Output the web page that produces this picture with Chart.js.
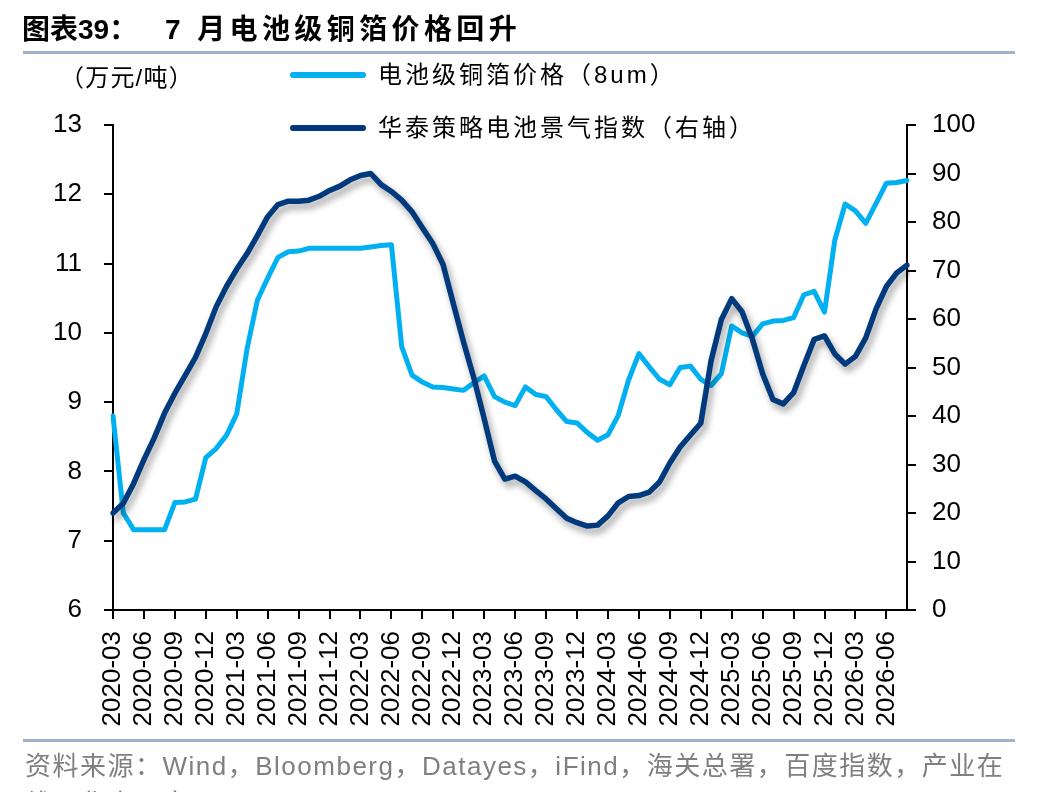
<!DOCTYPE html>
<html><head><meta charset="utf-8">
<script src="https://cdn.jsdelivr.net/npm/chart.js@4.4.1/dist/chart.umd.min.js"></script>
<style>
html,body{margin:0;padding:0;background:#fff;}
body{width:1048px;height:792px;position:relative;overflow:hidden;font-family:"Liberation Sans","Noto Sans CJK SC",sans-serif;}
#c{position:absolute;left:0;top:0;}
.t{position:absolute;white-space:nowrap;line-height:1;color:#000;}
.title{font-weight:bold;font-size:28px;top:16px;}
.rule{position:absolute;left:23px;width:992px;height:3px;background:#9DB3CE;}
.unit{left:60px;top:66px;font-size:24px;letter-spacing:1.2px;}
.leg{left:378px;font-size:24px;letter-spacing:3px;}
.sw{position:absolute;left:290px;width:76px;height:6px;border-radius:3px;}
.src{left:25px;font-size:26px;color:#7f7f7f;letter-spacing:1.5px;}
</style>
</head>
<body>
<canvas id="c" width="1048" height="792"></canvas>
<div class="t title" style="left:22px;">图表39：</div>
<div class="t title" style="left:165px;letter-spacing:4.4px;">7 月电池级铜箔价格回升</div>
<div class="rule" style="top:51px;"></div>
<div class="t unit">（万元/吨）</div>
<div class="sw" style="top:72px;background:#00B0F0;"></div>
<div class="t leg" style="top:63px;">电池级铜箔价格（8um）</div>
<div class="sw" style="top:125px;background:#003A7D;"></div>
<div class="t leg" style="top:116px;">华泰策略电池景气指数（右轴）</div>
<div class="rule" style="top:739px;"></div>
<div class="t src" style="top:753px;">资料来源：Wind，Bloomberg，Datayes，iFind，海关总署，百度指数，产业在</div>
<div class="t src" style="top:791px;">线，华泰研究</div>
<script>
// Categories (monthly)
const months = [
 "2020-03","2020-04","2020-05","2020-06","2020-07","2020-08","2020-09","2020-10","2020-11","2020-12",
 "2021-01","2021-02","2021-03","2021-04","2021-05","2021-06","2021-07","2021-08","2021-09","2021-10","2021-11","2021-12",
 "2022-01","2022-02","2022-03","2022-04","2022-05","2022-06","2022-07","2022-08","2022-09","2022-10","2022-11","2022-12",
 "2023-01","2023-02","2023-03","2023-04","2023-05","2023-06","2023-07","2023-08","2023-09","2023-10","2023-11","2023-12",
 "2024-01","2024-02","2024-03","2024-04","2024-05","2024-06","2024-07","2024-08","2024-09","2024-10","2024-11","2024-12",
 "2025-01","2025-02","2025-03","2025-04","2025-05","2025-06","2025-07","2025-08","2025-09","2025-10","2025-11","2025-12",
 "2026-01","2026-02","2026-03","2026-04","2026-05","2026-06","2026-07","2026-08"
];
// 电池级铜箔价格（8um），万元/吨（左轴）
const copperFoil = [
 8.8, 7.4, 7.16, 7.16, 7.16, 7.16, 7.55, 7.56, 7.6, 8.2,
 8.33, 8.52, 8.83, 9.77, 10.47, 10.79, 11.09, 11.17, 11.18, 11.22,
 11.22, 11.22, 11.22, 11.22, 11.22, 11.24, 11.26, 11.27, 9.8, 9.39,
 9.29, 9.22, 9.21, 9.19, 9.17, 9.28, 9.38, 9.08, 9.0, 8.95,
 9.22, 9.11, 9.08, 8.89, 8.72, 8.7, 8.56, 8.45, 8.53, 8.81,
 9.32, 9.7, 9.51, 9.33, 9.25, 9.5, 9.52, 9.33, 9.24, 9.41,
 10.1, 10.0, 9.95, 10.13, 10.17, 10.18, 10.22, 10.55, 10.6, 10.3,
 11.34, 11.86, 11.76, 11.58, 11.87, 12.16, 12.17, 12.2
];
// 华泰策略电池景气指数（右轴）
const batteryIndex = [
 20.0, 22.0, 26.1, 31.0, 35.5, 40.6, 44.7, 48.4, 52.1, 57.0,
 62.5, 66.7, 70.3, 73.5, 77.2, 81.1, 83.6, 84.3, 84.3, 84.5,
 85.3, 86.5, 87.4, 88.7, 89.6, 90.0, 87.7, 86.3, 84.5, 82.1,
 78.8, 75.6, 71.3, 63.2, 55.2, 47.8, 39.4, 30.7, 27.0, 27.6,
 26.4, 24.6, 22.9, 20.9, 18.9, 18.0, 17.3, 17.5, 19.4, 22.1,
 23.4, 23.6, 24.3, 26.4, 30.3, 33.6, 36.1, 38.5, 51.4, 59.9,
 64.2, 61.5, 55.9, 48.7, 43.4, 42.5, 44.8, 50.4, 55.8, 56.5,
 52.8, 50.7, 52.3, 56.1, 62.1, 66.7, 69.5, 71.1
];
const seriesNames = ["电池级铜箔价格（8um）", "华泰策略电池景气指数（右轴）"];
const labelEvery = 3;

const shadowPlugin = {
  id: 'navyShadow',
  beforeDatasetDraw(chart, args) {
    if (args.index === 1) {
      const c = chart.ctx;
      c.save();
      c.shadowColor = 'rgba(0,0,0,0.38)';
      c.shadowBlur = 7;
      c.shadowOffsetX = 3;
      c.shadowOffsetY = 5;
    }
  },
  afterDatasetDraw(chart, args) {
    if (args.index === 1) chart.ctx.restore();
  }
};

const tickFont = { family: '"Liberation Sans", Arial, sans-serif', size: 26 };

new Chart(document.getElementById('c'), {
  type: 'line',
  data: {
    labels: months,
    datasets: [
      { label: seriesNames[0], data: copperFoil, yAxisID: 'y', borderColor: '#00B0F0', borderWidth: 5,
        pointRadius: 0, tension: 0, borderJoinStyle: 'round', borderCapStyle: 'round', order: 1 },
      { label: seriesNames[1], data: batteryIndex, yAxisID: 'y1', borderColor: '#003A7D', borderWidth: 5.5,
        pointRadius: 0, tension: 0, borderJoinStyle: 'round', borderCapStyle: 'round', order: 0 }
    ]
  },
  options: {
    responsive: false,
    animation: false,
    events: [],
    layout: { padding: { left: 0, right: 0, top: 125, bottom: 0 } },
    plugins: { legend: { display: false }, tooltip: { enabled: false } },
    scales: {
      x: {
        type: 'category',
        offset: false,
        border: { display: true, color: '#000', width: 2 },
        grid: { drawOnChartArea: false, drawTicks: true, tickLength: 9, lineWidth: 2,
                color: (ctx) => (ctx.index % labelEvery === 0 ? '#000' : 'rgba(0,0,0,0)') },
        ticks: {
          autoSkip: false, maxRotation: 90, minRotation: 90, padding: 12, color: '#000', font: tickFont,
          callback: function (val, idx) { return idx % labelEvery === 0 ? this.getLabelForValue(val) : ''; }
        },
        afterFit: (s) => { s.height = 182; }
      },
      y: {
        position: 'left', min: 6, max: 13,
        border: { display: true, color: '#000', width: 2 },
        grid: { drawOnChartArea: false, drawTicks: true, tickLength: 9, lineWidth: 2, color: '#000' },
        ticks: { stepSize: 1, padding: 22, color: '#000', font: tickFont },
        afterFit: (s) => { s.width = 113; }
      },
      y1: {
        position: 'right', min: 0, max: 100,
        border: { display: true, color: '#000', width: 2 },
        grid: { drawOnChartArea: false, drawTicks: true, tickLength: 9, lineWidth: 2, color: '#000' },
        ticks: { stepSize: 10, padding: 16, color: '#000', font: tickFont },
        afterFit: (s) => { s.width = 141; }
      }
    }
  },
  plugins: [shadowPlugin]
});
</script>
</body></html>
